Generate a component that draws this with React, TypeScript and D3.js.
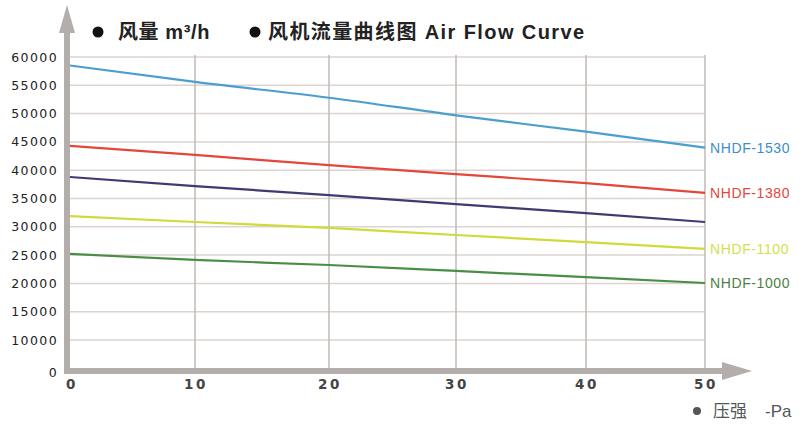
import React from 'react';
import * as d3 from 'd3';

const pressure = [0, 10, 20, 30, 40, 50];
const yTicks = [0, 10000, 15000, 20000, 25000, 30000, 35000, 40000, 45000, 50000, 55000, 60000];

const series = [
  { name: 'NHDF-1530', color: '#4a9fce', label: '#3d8ec9', values: [58500, 55600, 52800, 49700, 46800, 44000] },
  { name: 'NHDF-1380', color: '#e2473a', label: '#e2473a', values: [44300, 42700, 40900, 39300, 37700, 36000] },
  { name: '', color: '#3f3a72', label: '#3f3a72', values: [38800, 37200, 35600, 34000, 32400, 30850] },
  { name: 'NHDF-1100', color: '#cedb3a', label: '#d3df4a', values: [31900, 30850, 29800, 28550, 27300, 26100] },
  { name: 'NHDF-1000', color: '#4a8e45', label: '#4d8048', values: [25200, 24140, 23250, 22200, 21100, 20070] },
];

const W = 808;
const H = 438;
const font = "'Liberation Sans', Arial, 'Noto Sans CJK SC', sans-serif";

export default function App() {
  // grid in the picture is a little uneven, so both scales are piecewise
  const x = d3.scaleLinear().domain(pressure).range([70, 195, 329, 456, 586, 705]);
  const y = d3.scaleLinear().domain([0, 10000, 60000]).range([371, 340, 57]);

  const line = d3
    .line<number>()
    .x((_, i) => x(pressure[i]))
    .y(d => y(d))
    .curve(d3.curveMonotoneX);

  const axisColor = '#b3aeab';
  const x0 = x(0) - 3;
  const yBase = y(0);

  return (
    <svg width={W} height={H} style={{ position: 'absolute', left: 0, top: 0, background: '#fff' }}>
      {/* horizontal grid */}
      <g stroke="#ddd4d1" strokeWidth={1.5}>
        {yTicks.filter(t => t > 0).map(t => (
          <line key={t} x1={x(0)} x2={x(50)} y1={y(t)} y2={y(t)} />
        ))}
      </g>
      {/* vertical grid */}
      <g stroke="#c2bab6" strokeWidth={1.5}>
        {pressure.filter(p => p > 0).map(p => (
          <line key={p} x1={x(p)} x2={x(p)} y1={y(60000) - 2} y2={yBase} />
        ))}
      </g>

      {/* axes with arrows */}
      <rect x={x0 - 3} y={30} width={6} height={yBase + 3 - 30} fill={axisColor} />
      <path d={`M${x0},5 L${x0 + 8},33 L${x0 - 8},33 Z`} fill={axisColor} />
      <rect x={x0 - 3} y={yBase - 3} width={725 - x0} height={6} fill={axisColor} />
      <path d={`M752,${yBase} L722,${yBase - 9} L722,${yBase + 9} Z`} fill={axisColor} />

      {/* y tick labels */}
      <g fontFamily="'DejaVu Sans', sans-serif" fontSize={12.5} fill="#222" textAnchor="end" letterSpacing={1.4}>
        {yTicks.map(t => (
          <text key={t} x={58} y={y(t)} dy={t === 0 ? '0.45em' : '0.36em'}>{t}</text>
        ))}
      </g>

      {/* x tick labels */}
      <g fontFamily="'DejaVu Sans', sans-serif" fontSize={13.5} fontWeight="bold" fill="#444" letterSpacing={2.5}>
        {pressure.map(p => (
          <text key={p} x={x(p) + (p === 0 ? -4 : -11)} y={389}>{p}</text>
        ))}
      </g>

      {/* series lines */}
      {series.map(s => (
        <path key={s.color} d={line(s.values) || ''} fill="none" stroke={s.color} strokeWidth={2.2} />
      ))}

      {/* series labels */}
      <g fontFamily={font} fontSize={14} letterSpacing={0.6}>
        {series.filter(s => s.name).map(s => (
          <text key={s.name} x={710} y={y(s.values[s.values.length - 1])} dy="0.36em" fill={s.label}>{s.name}</text>
        ))}
      </g>

      {/* top legend */}
      <g fontFamily={font} fontSize={20} fontWeight="bold" fill="#222" letterSpacing={0.6}>
        <circle cx={98} cy={32} r={5.5} fill="#111" />
        <text x={118} y={39}>风量 m³/h</text>
        <circle cx={255} cy={32} r={5.5} fill="#111" />
        <text x={268} y={39} letterSpacing={1.4}>风机流量曲线图 Air Flow Curve</text>
      </g>

      {/* x axis title */}
      <g fontFamily={font} fontSize={17} fill="#555">
        <circle cx={697} cy={411} r={4} fill="#555" />
        <text x={713} y={417}>压强</text>
        <text x={765} y={417}>-Pa</text>
      </g>
    </svg>
  );
}
